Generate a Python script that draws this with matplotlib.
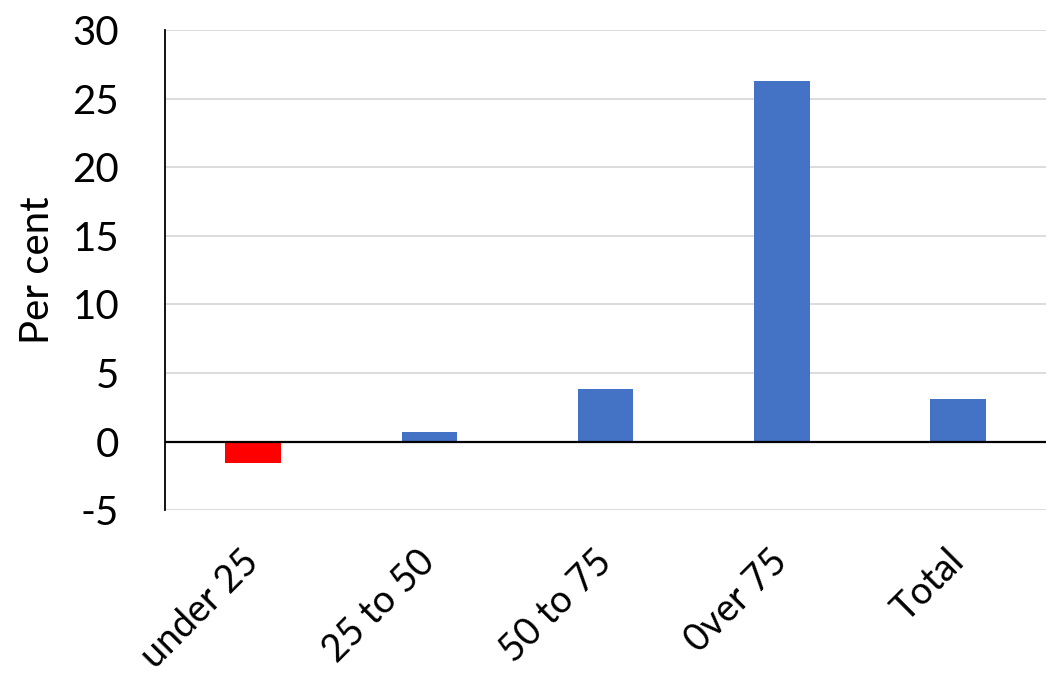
import matplotlib
matplotlib.use("Agg")
import matplotlib.pyplot as plt

# Change by age group, per cent
categories = ["under 25", "25 to 50", "50 to 75", "0ver 75", "Total"]
values = [-1.6, 0.7, 3.8, 26.3, 3.1]
yticks = [-5, 0, 5, 10, 15, 20, 25, 30]

plt.rcParams["font.family"] = ["Lato", "DejaVu Sans"]

fig = plt.figure(figsize=(10.58, 6.82), dpi=100)
ax = fig.add_axes([0.156, 0.252, 0.833, 0.704])

colors = ["#ff0000" if v < 0 else "#4472c4" for v in values]
x = range(len(categories))
ax.bar(x, values, width=0.315, color=colors, zorder=3)

ax.set_xlim(-0.5, len(categories) - 0.5)
ax.set_ylim(-5, 30)
ax.set_yticks(yticks)
ax.set_yticklabels([str(t) for t in yticks], fontsize=29)
ax.set_xticks(list(x))
ax.set_xticklabels(categories, fontsize=27, rotation=45, ha="right",
                   va="center", rotation_mode="anchor")
ax.set_ylabel("Per cent", fontsize=29, labelpad=12)

ax.grid(axis="y", color="#d9d9d9", linewidth=1.3, zorder=0)
ax.axhline(0, color="black", linewidth=1.6, zorder=4)
ax.tick_params(axis="y", length=0, pad=33)
ax.tick_params(axis="x", length=0, pad=33)

for side in ["top", "right", "bottom"]:
    ax.spines[side].set_visible(False)
ax.spines["left"].set_color("black")
ax.spines["left"].set_linewidth(1.3)

fig.savefig("out.png", dpi=100)
